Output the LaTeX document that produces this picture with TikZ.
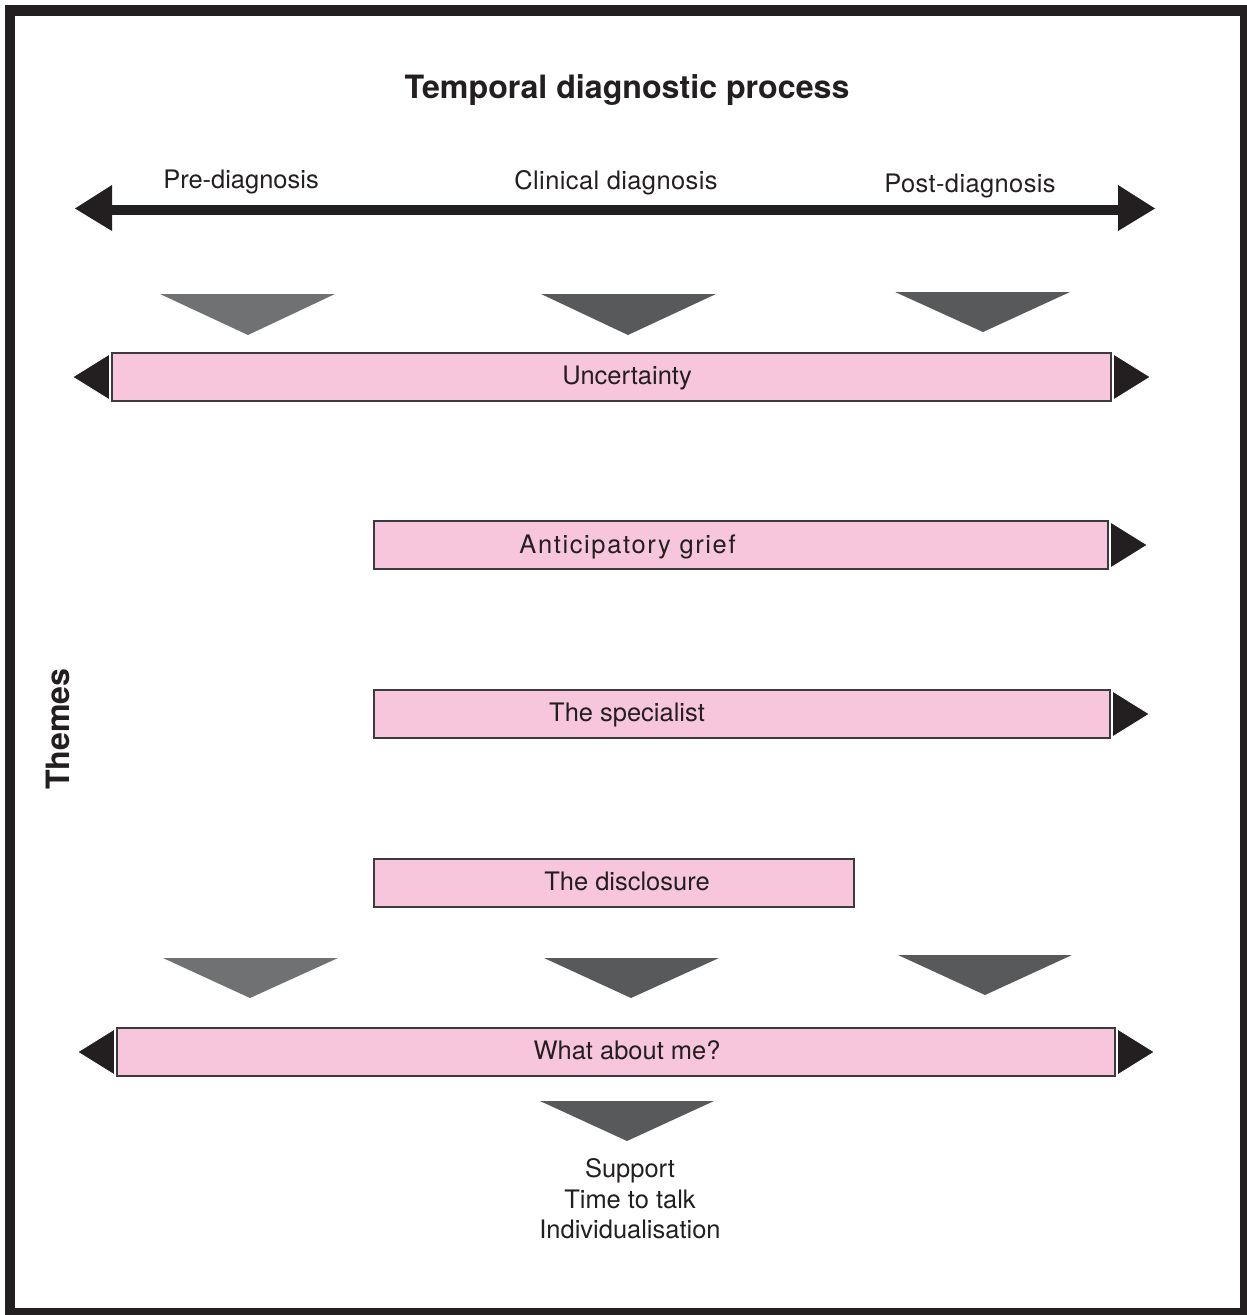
\documentclass[tikz,border=0pt]{standalone}
\usepackage{fontspec}
\setmainfont{TeX Gyre Heros}
\definecolor{ink}{HTML}{231F20}
\definecolor{barpink}{HTML}{F7C6DC}
\definecolor{barline}{HTML}{3B3B3D}
\definecolor{triA}{HTML}{707173}
\definecolor{triB}{HTML}{58595B}
\tikzset{
  bar/.style={draw=barline, fill=barpink, line width=1.1pt, minimum height=0.96cm, inner sep=0pt, outer sep=0pt},
  lbl/.style={text=ink, anchor=base, inner sep=0pt, font=\fontsize{14.5}{17.5}\selectfont},
  ttl/.style={text=ink, anchor=base, inner sep=0pt, font=\bfseries\fontsize{18.3}{22}\selectfont},
  headfill/.style={fill=ink, draw=white, line width=0.5pt},
}
\newcommand\rhead[1]{\path[headfill] ([xshift=0.05cm,yshift=0.46cm]#1.east) -- ([xshift=0.79cm]#1.east) -- ([xshift=0.05cm,yshift=-0.46cm]#1.east) -- cycle;}
\newcommand\lhead[1]{\path[headfill] ([xshift=-0.05cm,yshift=0.46cm]#1.west) -- ([xshift=-0.79cm]#1.west) -- ([xshift=-0.05cm,yshift=-0.46cm]#1.west) -- cycle;}
\begin{document}
\begin{tikzpicture}[x=0.02cm,y=-0.02cm]
\useasboundingbox (0,0) rectangle (1247,1315);
% frame
\draw[ink, line width=5.7pt] (10,10.5) rectangle (1245,1313);
% title
\node[ttl] (title) at (627,98) {Temporal diagnostic process};
\node[ttl, rotate=90] (themes) at (69,729) {Themes};
% timeline
\coordinate (tl) at (110,210);
\coordinate (tr) at (1120,210);
\draw[ink, line width=5.7pt] (tl) -- (tr);
\fill[ink] (112,185) -- (75,208.5) -- (112,231) -- cycle;
\fill[ink] (1118,185) -- (1155,208.5) -- (1118,231) -- cycle;
\node[lbl] (pre) at (241,188) {Pre-diagnosis};
\node[lbl] (clin) at (616,189) {\addfontfeature{LetterSpace=1.6}Clinical diagnosis};
\node[lbl] (post) at (970,192) {\addfontfeature{LetterSpace=1.5}Post-diagnosis};
% triangles row 1
\fill[triA] (160,294) -- (335,294) -- (248,335) -- cycle;
\fill[triB] (541,294) -- (716,294) -- (628,335) -- cycle;
\fill[triB] (895,292) -- (1070,292) -- (983,332) -- cycle;
% bars
\node[bar, minimum width=19.98cm] (unc) at (611.5,377) {};
\node[lbl] (uncl) at (627,384) {Uncertainty};
\lhead{unc}\rhead{unc}
\node[bar, minimum width=14.68cm] (ant) at (741,545) {};
\node[lbl] (antl) at (627.5,553) {\addfontfeature{LetterSpace=6.4}Anticipatory grief};
\rhead{ant}
\node[bar, minimum width=14.72cm] (spec) at (742,714) {};
\node[lbl] (specl) at (627,721) {The specialist};
\rhead{spec}
\node[bar, minimum width=9.6cm] (disc) at (614,883) {};
\node[lbl] (discl) at (627,890) {The disclosure};
% triangles row 2
\fill[triA] (163,958) -- (338,958) -- (250,998) -- cycle;
\fill[triB] (544,958) -- (719,958) -- (631,998) -- cycle;
\fill[triB] (898,955) -- (1072,955) -- (985,995) -- cycle;
\node[bar, minimum width=19.96cm] (me) at (616,1052) {};
\node[lbl] (mel) at (627,1059) {What about me?};
\lhead{me}\rhead{me}
% bottom triangle
\fill[triB] (540,1101) -- (714,1101) -- (627,1141) -- cycle;
\node[lbl] (s1) at (630,1177) {Support};
\node[lbl] (s2) at (630,1208) {Time to talk};
\node[lbl] (s3) at (630,1238) {Individualisation};
\end{tikzpicture}
\end{document}
